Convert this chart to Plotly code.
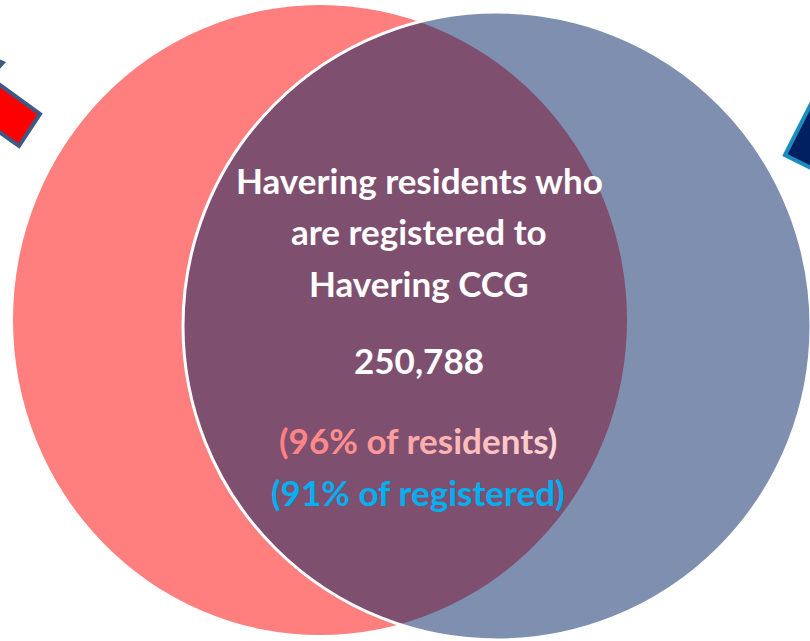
import plotly.graph_objects as go

# ---- data ----
title_lines = ["Havering residents who", "are registered to", "Havering CCG"]
overlap_count = [250788]
pct_of_residents = [96]
pct_of_registered = [91]

W, H = 810, 641


def gradient_text(s, c0, c1):
    out = []
    n = max(len(s) - 1, 1)
    for i, ch in enumerate(s):
        t = i / n
        r = round(c0[0] + (c1[0] - c0[0]) * t)
        g = round(c0[1] + (c1[1] - c0[1]) * t)
        b = round(c0[2] + (c1[2] - c0[2]) * t)
        out.append(f'<span style="color:rgb({r},{g},{b})">{ch}</span>')
    return "".join(out)


fig = go.Figure()
fig.add_trace(go.Scatter(x=[0, W], y=[0, H], mode="markers",
                         marker=dict(opacity=0), hoverinfo="skip", showlegend=False))

shapes = []
# left (residents) circle
shapes.append(dict(type="circle", xref="x", yref="y", x0=13, x1=627, y0=5, y1=635,
                   fillcolor="rgba(255,0,0,0.5)", line=dict(width=0), layer="above"))
# right (registered) circle
shapes.append(dict(type="circle", xref="x", yref="y", x0=183, x1=811, y0=12, y1=640,
                   fillcolor="rgba(0,31,97,0.5)", line=dict(color="white", width=3), layer="above"))
# top-left arrow shaft
shapes.append(dict(type="path", xref="x", yref="y",
                   path="M -40,56 L 40,114 L 19,146 L -40,104 Z",
                   fillcolor="#FF0000", line=dict(color="#3D5A87", width=4), layer="above"))
# top-left arrow head fragment
shapes.append(dict(type="path", xref="x", yref="y",
                   path="M -10,55 L 6,62 L -10,80 Z",
                   fillcolor="#3D5A87", line=dict(width=0), layer="above"))
# right arrow
shapes.append(dict(type="path", xref="x", yref="y",
                   path="M 785,155 L 845,37 L 845,185 Z",
                   fillcolor="#002060", line=dict(color="#1A8CC0", width=4), layer="above"))

font_family = "Lato, 'Open Sans', sans-serif"
FS = 35
ann = []
for txt, yy in zip(title_lines, [180, 231, 283]):
    ann.append(dict(x=419, y=yy, text=txt, showarrow=False, xref="x", yref="y",
                    font=dict(family=font_family, size=FS, color="white", weight=700)))
ann.append(dict(x=419, y=360, text=f"{overlap_count[0]:,}", showarrow=False, xref="x", yref="y",
                font=dict(family=font_family, size=FS, color="white", weight=700)))
ann.append(dict(x=418, y=440,
                text=gradient_text(f"({pct_of_residents[0]}% of residents)", (255, 128, 128), (255, 214, 214)),
                showarrow=False, xref="x", yref="y",
                font=dict(family=font_family, size=FS, color="#FFA0A0", weight=700)))
ann.append(dict(x=418, y=492, text=f"({pct_of_registered[0]}% of registered)", showarrow=False,
                xref="x", yref="y",
                font=dict(family=font_family, size=FS, color="#00B0F0", weight=700)))

fig.update_layout(
    width=W, height=H, margin=dict(l=0, r=0, t=0, b=0),
    paper_bgcolor="white", plot_bgcolor="white",
    xaxis=dict(range=[0, W], visible=False, fixedrange=True),
    yaxis=dict(range=[H, 0], visible=False, fixedrange=True),
    shapes=shapes, annotations=ann, showlegend=False,
)

fig.write_html(
    "out.html",
    config={"displayModeBar": False},
    post_script="document.body.style.margin='0';document.body.style.overflow='hidden';",
)
